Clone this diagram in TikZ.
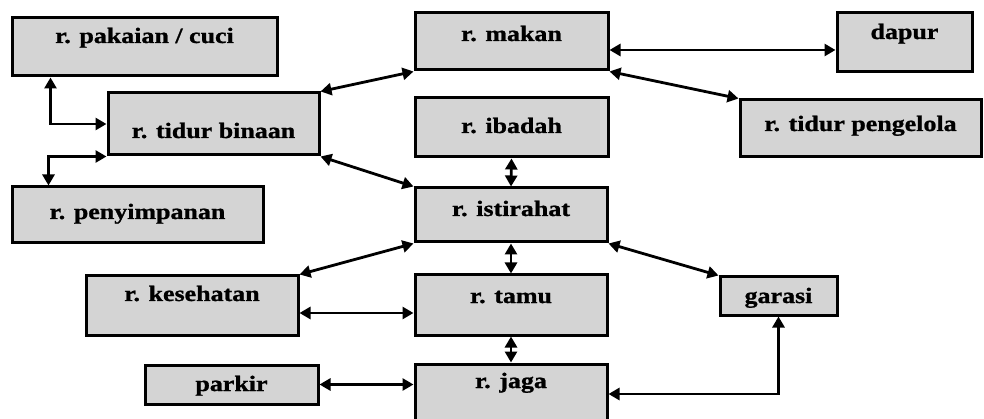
\documentclass[tikz,border=0pt]{standalone}
\usepackage{fontspec}
\usepackage{graphicx}
\setmainfont{Liberation Serif}
\newfontfamily\roomfont[BoldFeatures={FakeBold=0.9}]{Liberation Serif}
\usetikzlibrary{arrows.meta}
% room names are set in a heavy bold face, widened a little
\newcommand{\roomname}[1]{\scalebox{1.18}[1]{#1}}
\begin{document}
\begin{tikzpicture}[x=1pt,y=-1pt,
  room/.style={draw=black, line width=3pt, fill=black!17, inner sep=0pt},
  lbl/.style={anchor=base, inner sep=0pt, text=black,
    font=\roomfont\fontsize{22}{25}\selectfont\bfseries},
  link/.style={line width=2.8pt, draw=black,
    {Triangle[length=11pt,width=12pt]}-{Triangle[length=11pt,width=12pt]}}]
\useasboundingbox (0,0) rectangle (984,419);
\begin{scope}
\clip (0,0) rectangle (984,419);
% room boxes
\node[room, minimum width=265pt, minimum height=58pt] (pk) at (144.5,47)   {};
\node[room, minimum width=211pt, minimum height=62pt] (tb) at (213.5,124)  {};
\node[room, minimum width=251pt, minimum height=56pt] (ps) at (137.5,215)  {};
\node[room, minimum width=193pt, minimum height=57pt] (mk) at (511.5,41.5) {};
\node[room, minimum width=193pt, minimum height=59pt] (ib) at (511.5,127.5){};
\node[room, minimum width=135pt, minimum height=59pt] (dp) at (904.5,42.5) {};
\node[room, minimum width=241pt, minimum height=57pt] (tp) at (860.5,128.5){};
\node[room, minimum width=192pt, minimum height=54pt] (is) at (511,215)    {};
\node[room, minimum width=212pt, minimum height=59pt] (ks) at (192,305.5)  {};
\node[room, minimum width=192pt, minimum height=60pt] (tm) at (511,305)    {};
\node[room, minimum width=117pt, minimum height=38pt] (ga) at (778.5,296)  {};
\node[room, minimum width=173pt, minimum height=39pt] (pa) at (231.5,384.5){};
\node[room, minimum width=192pt, minimum height=60pt] (jg) at (511,394)    {};
% room names, set on their baselines
\node[lbl] (pk-t) at (pk.center |- 0,43)  {\roomname{r. pakaian / cuci}};
\node[lbl] (tb-t) at (tb.center |- 0,138) {\roomname{r. tidur binaan}};
\node[lbl] (ps-t) at (ps.center |- 0,219) {\roomname{r. penyimpanan}};
\node[lbl] (mk-t) at (mk.center |- 0,41)  {\roomname{r. makan}};
\node[lbl] (ib-t) at (ib.center |- 0,133) {\roomname{r. ibadah}};
\node[lbl] (dp-t) at (dp.center |- 0,39)  {\roomname{dapur}};
\node[lbl] (tp-t) at (tp.center |- 0,131) {\roomname{r. tidur pengelola}};
\node[lbl] (is-t) at (is.center |- 0,216) {\roomname{r. istirahat}};
\node[lbl] (ks-t) at (ks.center |- 0,301) {\roomname{r. kesehatan}};
\node[lbl] (tm-t) at (tm.center |- 0,303) {\roomname{r. tamu}};
\node[lbl] (ga-t) at (ga.center |- 0,303) {\roomname{garasi}};
\node[lbl] (pa-t) at (pa.center |- 0,391) {\roomname{parkir}};
\node[lbl] (jg-t) at (jg.center |- 0,388) {\roomname{r. jaga}};
% connectors
\draw[link] ([xshift=40pt]pk.south west) |- (tb.west);
\draw[link] (tb.south west) -| ([xshift=38pt]ps.north west);
\draw[link] (tb.north east) -- (mk.south west);
\draw[link] (tb.south east) -- (is.north west);
\draw[link] (mk.east |- 0,50) -- (dp.west |- 0,50);
\draw[link] (mk.south east) -- (tp.north west);
\draw[link] (ib.south) -- (is.north);
\draw[link] (is.south west) -- (ks.north east);
\draw[link] (is.south) -- (tm.north);
\draw[link] (is.south east) -- (ga.north west);
\draw[link] (ks.east |- 0,313) -- (tm.west |- 0,313);
\draw[link] (tm.south) -- (jg.north);
\draw[link] (pa.east) -- (jg.west |- pa.east);
\draw[link] (jg.east) -| (ga.south);
\end{scope}
\end{tikzpicture}
\end{document}
